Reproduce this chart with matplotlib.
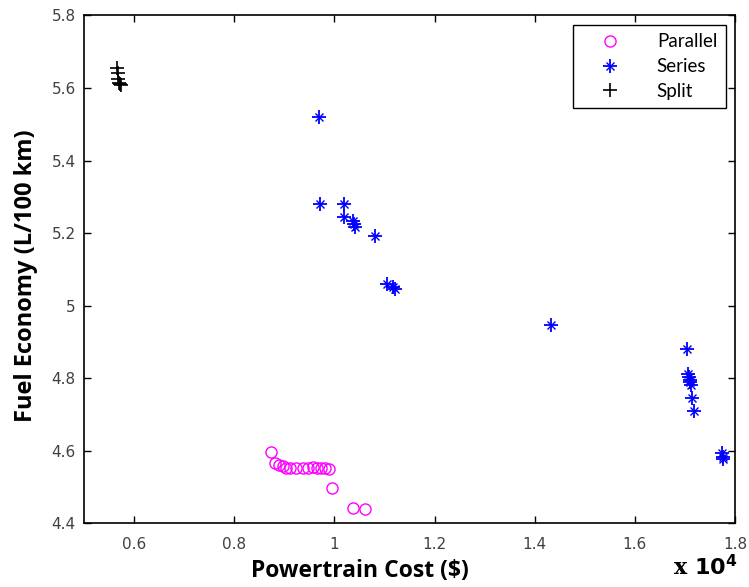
import matplotlib
matplotlib.use("Agg")
import matplotlib.pyplot as plt
from matplotlib.ticker import FuncFormatter
from matplotlib.lines import Line2D
from matplotlib.legend_handler import HandlerTuple

# Powertrain cost in units of 10^4 $, fuel economy in L/100 km
parallel_cost = [0.874, 0.882, 0.889, 0.897, 0.904, 0.911, 0.924, 0.937,
                 0.947, 0.958, 0.966, 0.974, 0.982, 0.989, 0.995, 1.038, 1.061]
parallel_fe = [4.597, 4.565, 4.560, 4.556, 4.553, 4.552, 4.553, 4.553,
               4.553, 4.554, 4.553, 4.552, 4.551, 4.549, 4.497, 4.442, 4.440]

series_cost = [0.969, 0.971, 1.019, 1.019, 1.037, 1.040, 1.042, 1.082,
               1.105, 1.118, 1.121, 1.432, 1.704, 1.707, 1.709, 1.710,
               1.711, 1.713, 1.714, 1.718, 1.774, 1.776, 1.777]
series_fe = [5.520, 5.281, 5.281, 5.244, 5.233, 5.225, 5.217, 5.191,
             5.060, 5.052, 5.046, 4.945, 4.880, 4.810, 4.802, 4.795,
             4.788, 4.780, 4.745, 4.708, 4.592, 4.583, 4.576]

split_cost = [0.566, 0.567, 0.568, 0.570, 0.572, 0.574]
split_fe = [5.655, 5.640, 5.625, 5.615, 5.610, 5.608]

MAGENTA = "#ff00ff"
BLUE = "#0000ff"

fig = plt.figure(figsize=(7.49, 5.87), dpi=100)
ax = fig.add_axes([0.1121, 0.109, 0.8692, 0.8646])

par, = ax.plot(parallel_cost, parallel_fe, linestyle="none", marker="o", markersize=8,
               markerfacecolor="none", markeredgecolor=MAGENTA, markeredgewidth=1.0)
# MATLAB '*' = plus with a smaller x through it
ser_p, = ax.plot(series_cost, series_fe, linestyle="none", marker="+", markersize=10,
                 color=BLUE, markeredgewidth=1.3)
ser_x, = ax.plot(series_cost, series_fe, linestyle="none", marker="x", markersize=5.5,
                 color=BLUE, markeredgewidth=1.0)
spl, = ax.plot(split_cost, split_fe, linestyle="none", marker="+", markersize=10,
               color="black", markeredgewidth=1.2)

ax.set_xlim(0.5, 1.8)
ax.set_ylim(4.4, 5.8)
ax.set_xticks([0.6, 0.8, 1.0, 1.2, 1.4, 1.6, 1.8])
ax.set_yticks([4.4, 4.6, 4.8, 5.0, 5.2, 5.4, 5.6, 5.8])
fmt = FuncFormatter(lambda v, p: f"{v:g}")
ax.xaxis.set_major_formatter(fmt)
ax.yaxis.set_major_formatter(fmt)
ax.tick_params(direction="in", top=True, right=True, length=5, width=1,
               labelsize=11, labelcolor="#404040")
ax.tick_params(axis="x", pad=10)
ax.tick_params(axis="y", pad=6)
for s in ax.spines.values():
    s.set_linewidth(1.2)

fig.text(360 / 749, 1 - 571 / 587, "Powertrain Cost ($)", ha="center", va="center",
         fontsize=16.5, fontweight="bold", family="Open Sans")
fig.text(26 / 749, 1 - 276 / 587, "Fuel Economy (L/100 km)", ha="center", va="center",
         rotation=90, fontsize=17, fontweight="bold", family="Open Sans")
fig.text(0.985, 0.012, r"x $\mathbf{10^4}$", ha="right", va="bottom",
         fontsize=16, fontweight="bold", family="DejaVu Serif")

leg = ax.legend([par, (ser_p, ser_x), spl], ["Parallel", "Series", "Split"],
                handler_map={tuple: HandlerTuple(ndivide=1)},
                loc="upper right", prop={"family": "Lato", "size": 13.5},
                frameon=True, fancybox=False, edgecolor="black", framealpha=1,
                borderpad=0.45, handletextpad=1.0, handlelength=3.0,
                borderaxespad=0.5, labelspacing=0.42)
leg.get_frame().set_linewidth(1.0)

fig.savefig("out.png", dpi=100, facecolor="white")
